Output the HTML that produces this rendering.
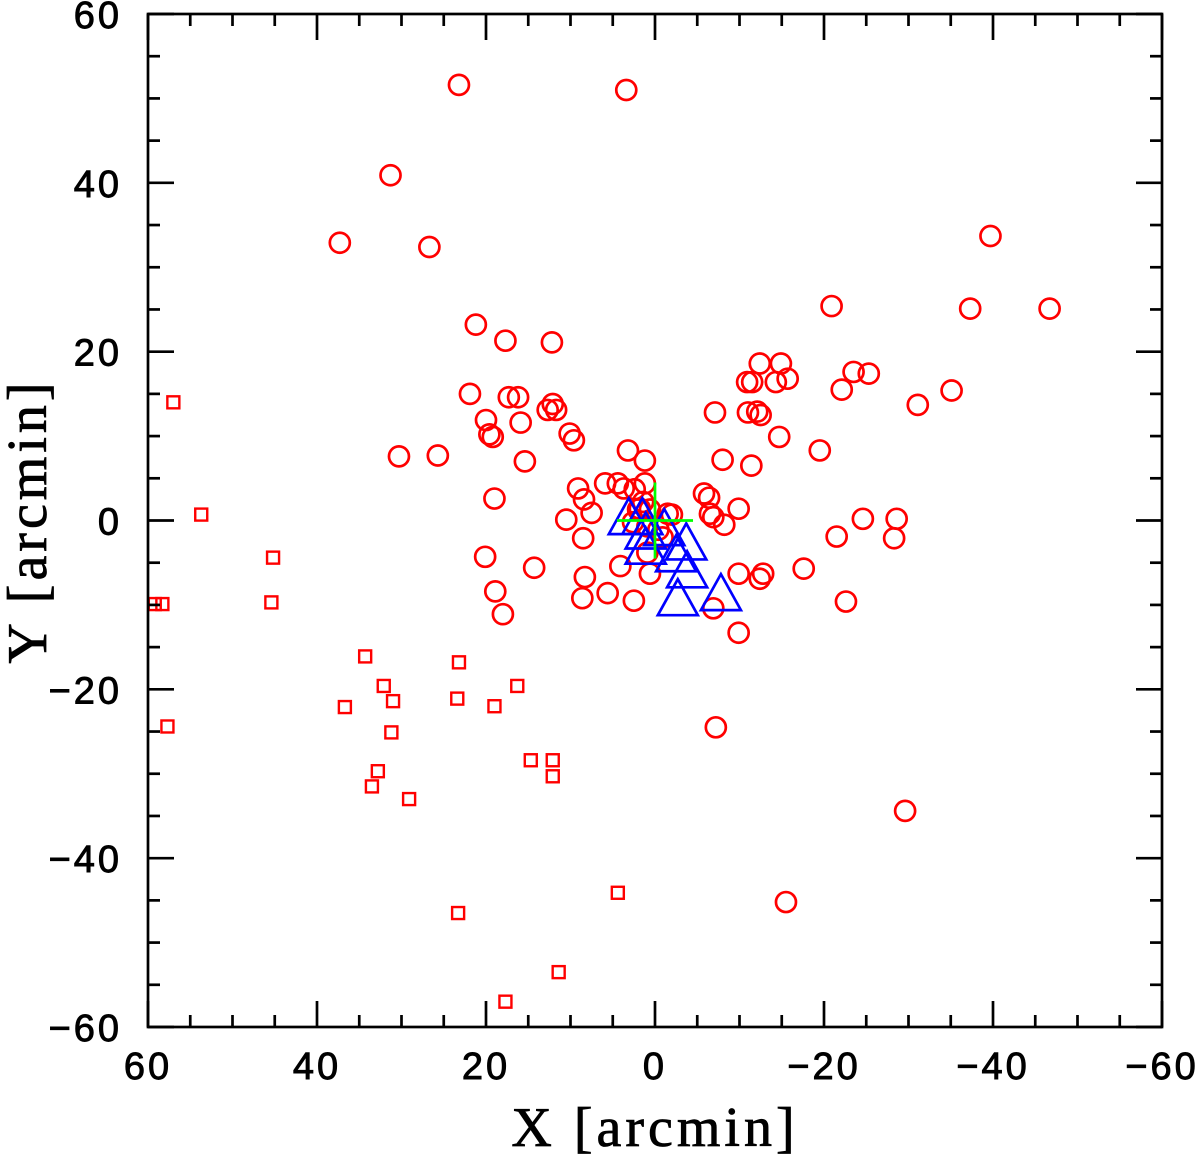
<!DOCTYPE html>
<html><head><meta charset="utf-8"><style>html,body{margin:0;padding:0;background:#fff}svg{display:block}</style></head>
<body>
<svg id="chart" width="1200" height="1157" xmlns="http://www.w3.org/2000/svg"></svg>
<script>
const circleX=[23.2,3.4,31.3,37.3,26.7,-39.7,-20.9,-37.3,-46.7,21.2,17.7,12.2,-12.4,-14.9,-23.5,-25.3,-10.9,-11.5,-14.3,-15.7,21.9,17.3,16.2,-35.1,-22.1,-31.1,12.1,11.7,12.7,-11.0,-12.1,-12.5,20.0,15.9,-7.1,-14.7,10.1,9.6,19.6,19.2,30.3,25.7,15.4,-19.5,3.2,1.2,-8.0,-11.4,9.1,8.4,5.9,4.4,3.7,1.2,-5.8,-6.4,-9.9,19.0,7.5,10.5,-6.5,-6.9,-8.2,1.8,-1.5,-24.6,-28.6,-21.5,-28.3,20.1,8.5,14.3,8.3,4.1,5.6,8.6,18.9,2.5,0.6,-9.9,-12.4,-12.8,-17.6,-22.6,18.0,-6.9,-9.9,-7.2,-29.6,-15.5,1.4,2.0,0.6,-2.0,2.6,0.9,-0.4,-0.9,0.9,2.4];
const circleY=[51.6,51.0,40.9,32.9,32.4,33.7,25.4,25.1,25.1,23.2,21.3,21.1,18.6,18.6,17.6,17.4,16.4,16.4,16.4,16.8,15.0,14.6,14.6,15.4,15.5,13.7,13.8,13.1,13.1,12.8,12.9,12.5,11.9,11.6,12.8,9.9,10.3,9.5,10.2,9.9,7.6,7.7,7.0,8.3,8.3,7.1,7.2,6.5,3.8,2.5,4.4,4.4,3.8,4.4,3.2,2.7,1.4,2.6,0.9,0.1,0.8,0.4,-0.5,1.4,0.8,0.2,0.2,-1.9,-2.1,-4.3,-2.1,-5.6,-6.7,-5.4,-8.6,-9.2,-8.4,-9.5,-6.3,-6.3,-6.9,-6.3,-5.7,-9.6,-11.1,-10.4,-13.3,-24.5,-34.4,-45.2,2.2,1.3,1.3,0.7,-0.2,-0.7,-1.1,-2.0,-3.8,3.7];
const squareX=[57.0,53.7,45.2,45.4,59.2,58.3,57.7,34.3,32.1,31.0,31.2,36.7,32.8,33.5,29.1,23.2,23.4,19.0,16.3,14.7,12.1,12.1,23.3,4.4,17.7,11.4];
const squareY=[14.0,0.7,-4.4,-9.7,-9.9,-9.9,-24.4,-16.1,-19.6,-21.4,-25.1,-22.1,-29.7,-31.5,-33.0,-16.8,-21.1,-22.0,-19.6,-28.4,-28.4,-30.3,-46.5,-44.1,-57.0,-53.5];
const triX=[3.1,1.5,1.1,-1.1,-3.7,1.1,-2.5,-3.8,-2.7,-7.8];
const triY=[0.4,0.4,-1.3,-0.9,-2.6,-3.1,-4.0,-5.9,-9.2,-8.6];
const crossX=[0];
const crossY=[0];
const crossHalf=[4.5];
const ticks=[60,40,20,0,-20,-40,-60];
const tickLabels=["60","40","20","0","\u221220","\u221240","\u221260"];

const NS="http://www.w3.org/2000/svg";
const svg=document.getElementById('chart');
const L=148,R=1162,T=14,B=1027;
const sx=v=>L+(60-v)*(R-L)/120;
const sy=v=>T+(60-v)*(B-T)/120;
function mk(tag,attrs,parent){const e=document.createElementNS(NS,tag);for(const k in attrs)e.setAttribute(k,attrs[k]);(parent||svg).appendChild(e);return e;}
const defs=mk('defs',{});
const cp=mk('clipPath',{id:'clip'},defs);
mk('rect',{x:L,y:T,width:R-L,height:B-T},cp);
const g=mk('g',{'clip-path':'url(#clip)'});



for(let i=0;i<circleX.length;i++){
  const c=mk('circle',{cx:sx(circleX[i]),cy:sy(circleY[i]),r:10,fill:'none',stroke:'#f00','stroke-width':2.7},g);
  
  
}
for(let i=0;i<squareX.length;i++){
  const s=mk('rect',{x:sx(squareX[i])-6,y:sy(squareY[i])-6,width:12,height:12,fill:'none',stroke:'#f00','stroke-width':2.4},g);
  
  
}
for(let i=0;i<triX.length;i++){
  const x=sx(triX[i]),y=sy(triY[i]);
  const t=mk('polygon',{points:`${x-20},${y+17} ${x+20},${y+17} ${x},${y-19}`,fill:'none',stroke:'#00f','stroke-width':2.7},g);
  
  
}
for(let i=0;i<crossX.length;i++){
  const cx=sx(crossX[i]),cy=sy(crossY[i]);
  const h=mk('line',{x1:sx(crossX[i]+crossHalf[i]),x2:sx(crossX[i]-crossHalf[i]),y1:cy,y2:cy,stroke:'#0f0','stroke-width':2.7},g);
  
  
  const v=mk('line',{x1:cx,x2:cx,y1:sy(crossY[i]+crossHalf[i]),y2:sy(crossY[i]-crossHalf[i]),stroke:'#0f0','stroke-width':2.7},g);
  
  
}

const frame=mk('rect',{x:L,y:T,width:R-L,height:B-T,fill:'none',stroke:'#000','stroke-width':2.7});


const tg=mk('g',{stroke:'#000','stroke-width':2.7});


for(let v=-60;v<=60;v+=5){
  const len=(v%20===0)?26:12;
  const x=sx(v),y=sy(v);
  mk('line',{x1:x,x2:x,y1:B,y2:B-len},tg);
  mk('line',{x1:x,x2:x,y1:T,y2:T+len},tg);
  mk('line',{x1:L,x2:L+len,y1:y,y2:y},tg);
  mk('line',{x1:R,x2:R-len,y1:y,y2:y},tg);
}
const tstyle={'font-family':'Liberation Sans, sans-serif','font-size':38,'letter-spacing':3,stroke:'#000','stroke-width':0.9};
for(let i=0;i<ticks.length;i++){
  const xl=mk('text',Object.assign({x:sx(ticks[i]),y:1079,'text-anchor':'middle'},tstyle));
  xl.textContent=tickLabels[i];
  
  
  const yl=mk('text',Object.assign({x:122,y:sy(ticks[i])+14,'text-anchor':'end'},tstyle));
  yl.textContent=tickLabels[i];
  
  
}
const xt=mk('text',{x:655,y:1146,'text-anchor':'middle','font-family':'Liberation Serif, serif','font-size':56,'letter-spacing':4,stroke:'#000','stroke-width':0.8});
xt.textContent='X [arcmin]';


const yt=mk('text',{x:0,y:0,'text-anchor':'middle','font-family':'Liberation Serif, serif','font-size':56,'letter-spacing':4,stroke:'#000','stroke-width':0.8,transform:'translate(46,521) rotate(-90)'});
yt.textContent='Y [arcmin]';


</script>
</body></html>
